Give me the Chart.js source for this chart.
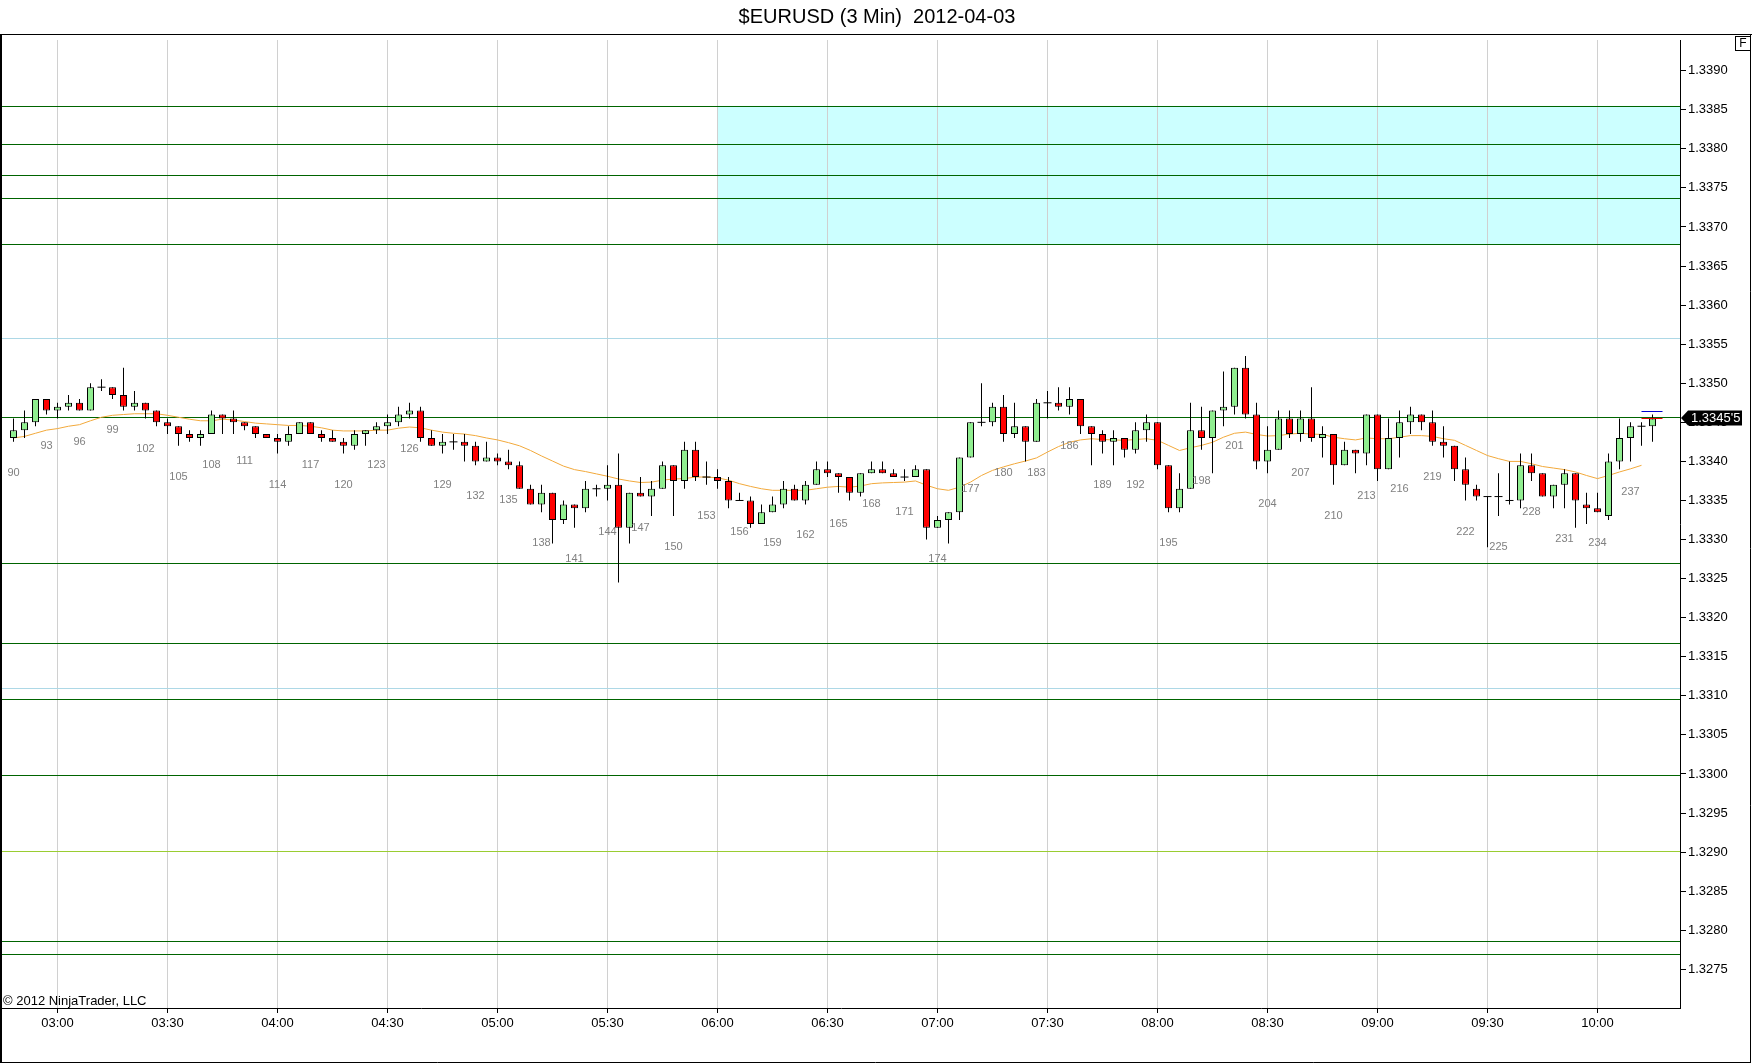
<!DOCTYPE html>
<html>
<head>
<meta charset="utf-8">
<title>$EURUSD (3 Min) 2012-04-03</title>
<script src="https://cdn.jsdelivr.net/npm/chart.js@4.4.1/dist/chart.umd.min.js"></script>
<style>
html,body{margin:0;padding:0;background:#ffffff;}
canvas{display:block;}
</style>
</head>
<body>
<canvas id="c" width="1752" height="1064"></canvas>
<script>
// ---------------- DATA ----------------
const titleText = '$EURUSD (3 Min)  2012-04-03';
const copyrightText = '\u00A9 2012 NinjaTrader, LLC';
const firstBar = 90;   // bar number of the first candle (bars 90 .. 239)

const openP = [
 1.33430,1.33440,1.33450,1.33480,1.33465,1.33470,1.33475,1.33465,1.33495,1.33495,
 1.33485,1.33470,1.33475,1.33465,1.33450,1.33445,1.33435,1.33430,1.33435,1.33460,
 1.33455,1.33450,1.33445,1.33435,1.33430,1.33425,1.33435,1.33450,1.33435,1.33430,
 1.33425,1.33420,1.33435,1.33440,1.33445,1.33450,1.33460,1.33465,1.33430,1.33420,
 1.33425,1.33425,1.33420,1.33400,1.33405,1.33400,1.33395,1.33365,1.33345,1.33360,
 1.33325,1.33345,1.33340,1.33365,1.33365,1.33370,1.33315,1.33360,1.33355,1.33365,
 1.33395,1.33375,1.33415,1.33380,1.33380,1.33375,1.33350,1.33350,1.33320,1.33335,
 1.33345,1.33365,1.33350,1.33370,1.33390,1.33385,1.33380,1.33360,1.33385,1.33390,
 1.33385,1.33380,1.33380,1.33390,1.33315,1.33325,1.33335,1.33405,1.33450,1.33450,
 1.33470,1.33435,1.33445,1.33425,1.33475,1.33475,1.33470,1.33480,1.33445,1.33435,
 1.33425,1.33430,1.33415,1.33440,1.33450,1.33395,1.33340,1.33365,1.33440,1.33430,
 1.33465,1.33470,1.33520,1.33460,1.33400,1.33415,1.33455,1.33435,1.33455,1.33430,
 1.33435,1.33395,1.33415,1.33410,1.33460,1.33390,1.33430,1.33450,1.33460,1.33450,
 1.33425,1.33420,1.33390,1.33365,1.33355,1.33355,1.33350,1.33350,1.33395,1.33385,
 1.33355,1.33370,1.33385,1.33345,1.33340,1.33330,1.33400,1.33430,1.33445,1.33445
];
const highP = [
 1.33455,1.33465,1.33480,1.33480,1.33475,1.33485,1.33480,1.33500,1.33505,1.33495,
 1.33520,1.33490,1.33475,1.33465,1.33455,1.33445,1.33440,1.33440,1.33465,1.33460,
 1.33465,1.33450,1.33445,1.33435,1.33435,1.33445,1.33450,1.33450,1.33440,1.33440,
 1.33430,1.33440,1.33440,1.33450,1.33460,1.33470,1.33475,1.33470,1.33440,1.33435,
 1.33435,1.33435,1.33425,1.33425,1.33410,1.33415,1.33400,1.33370,1.33370,1.33360,
 1.33350,1.33345,1.33375,1.33370,1.33395,1.33410,1.33360,1.33380,1.33375,1.33400,
 1.33395,1.33425,1.33425,1.33400,1.33390,1.33380,1.33360,1.33355,1.33345,1.33355,
 1.33375,1.33370,1.33375,1.33400,1.33400,1.33385,1.33380,1.33385,1.33400,1.33400,
 1.33390,1.33390,1.33395,1.33390,1.33330,1.33335,1.33405,1.33450,1.33500,1.33475,
 1.33485,1.33475,1.33445,1.33480,1.33490,1.33495,1.33495,1.33480,1.33445,1.33440,
 1.33440,1.33430,1.33450,1.33460,1.33450,1.33395,1.33385,1.33475,1.33470,1.33465,
 1.33515,1.33520,1.33535,1.33475,1.33445,1.33465,1.33465,1.33465,1.33495,1.33445,
 1.33435,1.33425,1.33415,1.33460,1.33460,1.33455,1.33465,1.33470,1.33460,1.33465,
 1.33445,1.33420,1.33405,1.33370,1.33355,1.33385,1.33400,1.33410,1.33410,1.33385,
 1.33370,1.33390,1.33385,1.33360,1.33360,1.33410,1.33455,1.33450,1.33450,1.33460
];
const lowP = [
 1.33425,1.33430,1.33445,1.33460,1.33455,1.33465,1.33465,1.33465,1.33490,1.33480,
 1.33465,1.33465,1.33455,1.33445,1.33435,1.33420,1.33425,1.33420,1.33435,1.33435,
 1.33435,1.33440,1.33430,1.33430,1.33410,1.33420,1.33435,1.33435,1.33425,1.33425,
 1.33410,1.33415,1.33420,1.33435,1.33435,1.33445,1.33455,1.33425,1.33420,1.33410,
 1.33415,1.33400,1.33395,1.33400,1.33395,1.33390,1.33365,1.33345,1.33335,1.33295,
 1.33320,1.33315,1.33335,1.33355,1.33350,1.33245,1.33295,1.33355,1.33330,1.33365,
 1.33330,1.33365,1.33375,1.33370,1.33365,1.33340,1.33350,1.33315,1.33320,1.33335,
 1.33340,1.33350,1.33345,1.33370,1.33380,1.33360,1.33350,1.33355,1.33385,1.33385,
 1.33380,1.33375,1.33380,1.33300,1.33315,1.33295,1.33325,1.33405,1.33445,1.33445,
 1.33425,1.33430,1.33400,1.33425,1.33455,1.33465,1.33460,1.33435,1.33395,1.33410,
 1.33395,1.33405,1.33410,1.33425,1.33390,1.33335,1.33335,1.33365,1.33415,1.33385,
 1.33445,1.33460,1.33455,1.33390,1.33385,1.33415,1.33430,1.33425,1.33425,1.33405,
 1.33370,1.33395,1.33385,1.33395,1.33375,1.33390,1.33405,1.33435,1.33440,1.33420,
 1.33405,1.33375,1.33350,1.33350,1.33290,1.33330,1.33345,1.33340,1.33375,1.33355,
 1.33340,1.33340,1.33315,1.33320,1.33335,1.33325,1.33390,1.33400,1.33420,1.33425
];
const closeP = [
 1.33440,1.33450,1.33480,1.33465,1.33470,1.33475,1.33465,1.33495,1.33495,1.33485,
 1.33470,1.33475,1.33465,1.33450,1.33445,1.33435,1.33430,1.33435,1.33460,1.33455,
 1.33450,1.33445,1.33435,1.33430,1.33425,1.33435,1.33450,1.33435,1.33430,1.33425,
 1.33420,1.33435,1.33440,1.33445,1.33450,1.33460,1.33465,1.33430,1.33420,1.33425,
 1.33425,1.33420,1.33400,1.33405,1.33400,1.33395,1.33365,1.33345,1.33360,1.33325,
 1.33345,1.33340,1.33365,1.33365,1.33370,1.33315,1.33360,1.33355,1.33365,1.33395,
 1.33375,1.33415,1.33380,1.33380,1.33375,1.33350,1.33350,1.33320,1.33335,1.33345,
 1.33365,1.33350,1.33370,1.33390,1.33385,1.33380,1.33360,1.33385,1.33390,1.33385,
 1.33380,1.33380,1.33390,1.33315,1.33325,1.33335,1.33405,1.33450,1.33450,1.33470,
 1.33435,1.33445,1.33425,1.33475,1.33475,1.33470,1.33480,1.33445,1.33435,1.33425,
 1.33430,1.33415,1.33440,1.33450,1.33395,1.33340,1.33365,1.33440,1.33430,1.33465,
 1.33470,1.33520,1.33460,1.33400,1.33415,1.33455,1.33435,1.33455,1.33430,1.33435,
 1.33395,1.33415,1.33410,1.33460,1.33390,1.33430,1.33450,1.33460,1.33450,1.33425,
 1.33420,1.33390,1.33370,1.33355,1.33355,1.33355,1.33350,1.33395,1.33385,1.33355,
 1.33370,1.33385,1.33350,1.33340,1.33335,1.33400,1.33430,1.33445,1.33445,1.33455
];
// moving average (orange line)
const maP = [
 1.33430,1.33432,1.33436,1.33440,1.33442,1.33445,1.33447,1.33452,1.334565,1.33459,
 1.33460,1.33461,1.33461,1.33461,1.33459,1.334565,1.33454,1.33452,1.33452,1.33454,
 1.33453,1.33451,1.33449,1.33448,1.33447,1.33446,1.33446,1.33445,1.33443,1.33440,
 1.33439,1.33439,1.33439,1.33440,1.33440,1.334425,1.33444,1.33443,1.33440,1.334375,
 1.33436,1.33435,1.33433,1.33430,1.334275,1.33424,1.33420,1.33414,1.33407,1.334005,
 1.33394,1.333895,1.33387,1.33384,1.33381,1.333775,1.33375,1.33373,1.333735,1.33376,
 1.333775,1.33378,1.33380,1.33380,1.33379,1.33376,1.333715,1.33368,1.33365,1.33363,
 1.33363,1.33363,1.33363,1.33365,1.33367,1.33368,1.33367,1.333685,1.333715,1.333725,
 1.33373,1.333735,1.33375,1.333695,1.33365,1.33363,1.33367,1.333735,1.33382,1.333885,
 1.33393,1.33397,1.334005,1.334045,1.33412,1.33419,1.334245,1.334275,1.33429,1.33428,
 1.334275,1.33427,1.33428,1.33429,1.33427,1.334205,1.33414,1.334175,1.334205,1.334245,
 1.33431,1.33436,1.334375,1.334345,1.334325,1.33433,1.33435,1.33436,1.33435,1.334345,
 1.33431,1.33429,1.334275,1.33430,1.33429,1.33429,1.33431,1.33433,1.33433,1.33432,
 1.33429,1.33427,1.334205,1.33414,1.334075,1.334035,1.33400,1.33400,1.33397,1.333935,
 1.333915,1.333895,1.333865,1.33382,1.33378,1.33382,1.333865,1.333905,1.33395,null
];

// horizontal price levels
const greenLevels = [1.33855, 1.33806, 1.33766, 1.33737, 1.33678, 1.33457,
                     1.33270, 1.33168, 1.33096, 1.32999, 1.32786, 1.32769];
const blueLevels = [1.33558, 1.33110];
const yellowLevels = [1.32901];
// shaded zone (from the 06:00 bar to the right edge)
const zoneStartBar = 154;
const zoneLow = 1.33678;
const zoneHigh = 1.33855;
// last ask / bid marks
const askPrice = 1.33465;
const bidPrice = 1.33455;

// axes
const xTickBars = [94,104,114,124,134,144,154,164,174,184,194,204,214,224,234];
const xTickLabels = ['03:00','03:30','04:00','04:30','05:00','05:30','06:00','06:30',
                     '07:00','07:30','08:00','08:30','09:00','09:30','10:00'];
const yTickValues = [1.3275,1.3280,1.3285,1.3290,1.3295,1.3300,1.3305,1.3310,1.3315,1.3320,
                     1.3325,1.3330,1.3335,1.3340,1.3345,1.3350,1.3355,1.3360,1.3365,1.3370,
                     1.3375,1.3380,1.3385,1.3390];
const xMin = 88.95455, xMax = 241.5;
const yMin = 1.327005, yMax = 1.339393;

// ---------------- BUILD ----------------
const UP = '#90ee90', DOWN = '#ff0000';
const bodies = [], dojis = [], wicks = [], maPts = [];
openP.forEach((o, i) => {
  const n = firstBar + i, c = closeP[i];
  wicks.push({x: n, y: [lowP[i], highP[i]]});
  if (o === c) dojis.push({x: n, y: o});
  else bodies.push({x: n, y: [o, c]});
  maPts.push({x: n, y: maP[i]});
});
const lastClose = closeP[closeP.length - 1];
const lastBar = firstBar + closeP.length - 1;

function fmtPrice(p) {
  const v = Math.round(p * 100000);
  return (Math.floor(v / 10) / 10000).toFixed(4) + "'" + (v % 10);
}

const decor = {
  id: 'decor',
  beforeDraw(chart) {
    const {ctx, chartArea: a, scales: {x, y}} = chart;
    ctx.save();
    ctx.fillStyle = '#ccffff';
    const x0 = Math.round(x.getPixelForValue(zoneStartBar));
    const y0 = y.getPixelForValue(zoneHigh), y1 = y.getPixelForValue(zoneLow);
    ctx.fillRect(x0, y0, a.right - x0, y1 - y0);
    ctx.restore();
  },
  beforeDatasetsDraw(chart) {
    const {ctx, chartArea: a, scales: {y}} = chart;
    ctx.save();
    ctx.lineWidth = 1;
    const draw = (arr, col) => {
      ctx.strokeStyle = col;
      arr.forEach(p => {
        const yy = Math.round(y.getPixelForValue(p)) + 0.5;
        ctx.beginPath(); ctx.moveTo(0, yy); ctx.lineTo(a.right, yy); ctx.stroke();
      });
    };
    draw(blueLevels, '#add8e6');
    draw(yellowLevels, '#9acd32');
    draw(greenLevels, '#006400');
    ctx.restore();
  },
  afterDatasetsDraw(chart) {
    const {ctx, scales: {x, y}} = chart;
    ctx.save();
    // bar numbers every third bar
    ctx.font = '11px "Liberation Sans", Arial, sans-serif';
    ctx.fillStyle = '#808080';
    ctx.textAlign = 'center';
    ctx.textBaseline = 'middle';
    lowP.forEach((l, i) => {
      const n = firstBar + i;
      if (n % 3 !== 0) return;
      ctx.fillText(String(n), x.getPixelForValue(n), y.getPixelForValue(l) + 31);
    });
    // ask / bid marks on the last bar
    const xc = x.getPixelForValue(lastBar);
    ctx.lineWidth = 1;
    ctx.strokeStyle = '#0000cc';
    let yy = Math.round(y.getPixelForValue(askPrice)) + 0.5;
    ctx.beginPath(); ctx.moveTo(xc - 11, yy); ctx.lineTo(xc + 10, yy); ctx.stroke();
    ctx.strokeStyle = '#ee0000';
    yy = Math.round(y.getPixelForValue(bidPrice)) + 0.5;
    ctx.beginPath(); ctx.moveTo(xc - 11, yy); ctx.lineTo(xc + 10, yy); ctx.stroke();
    ctx.restore();
  },
  afterDraw(chart) {
    const {ctx, chartArea: a, scales: {y}, width, height} = chart;
    ctx.save();
    // last price marker
    const yp = Math.round(y.getPixelForValue(lastClose));
    ctx.fillStyle = '#000';
    ctx.beginPath();
    ctx.moveTo(a.right + 1, yp);
    ctx.lineTo(a.right + 8, yp - 7.5);
    ctx.lineTo(a.right + 62, yp - 7.5);
    ctx.lineTo(a.right + 62, yp + 7.5);
    ctx.lineTo(a.right + 8, yp + 7.5);
    ctx.closePath();
    ctx.fill();
    ctx.fillStyle = '#fff';
    ctx.font = '13px "Liberation Sans", Arial, sans-serif';
    ctx.textAlign = 'left';
    ctx.textBaseline = 'middle';
    ctx.fillText(fmtPrice(lastClose), a.right + 11, yp + 0.5);
    // copyright
    ctx.fillStyle = '#000';
    ctx.textBaseline = 'alphabetic';
    ctx.fillText(copyrightText, 3, a.bottom - 3);
    // panel frame
    ctx.strokeStyle = '#000';
    ctx.lineWidth = 1;
    ctx.beginPath();
    ctx.moveTo(0, 34.5); ctx.lineTo(width, 34.5);
    ctx.moveTo(width - 1.5, 34); ctx.lineTo(width - 1.5, height - 1);
    ctx.moveTo(0, height - 1.5); ctx.lineTo(width - 1, height - 1.5);
    ctx.stroke();
    ctx.fillRect(0, 34, 2, height - 35);
    // "F" box
    ctx.strokeRect(width - 16.5, 36.5, 15, 14);
    ctx.font = '12px "Liberation Sans", Arial, sans-serif';
    ctx.textAlign = 'center';
    ctx.textBaseline = 'middle';
    ctx.fillText('F', width - 9, 44);
    ctx.restore();
  }
};

Chart.defaults.font.family = '"Liberation Sans", Arial, sans-serif';
Chart.defaults.font.size = 13;
Chart.defaults.color = '#000';

new Chart(document.getElementById('c'), {
  type: 'bar',
  data: {
    datasets: [
      {
        type: 'bar', label: 'body', data: bodies, order: 0, grouped: false,
        barThickness: 7, borderWidth: 1, borderColor: '#000', borderSkipped: false,
        inflateAmount: 0,
        backgroundColor: (c) => (c.raw && c.raw.y[1] > c.raw.y[0]) ? UP : DOWN
      },
      {
        type: 'line', label: 'doji', data: dojis, order: 0, showLine: false,
        pointStyle: 'line', pointRadius: 4, pointHoverRadius: 4,
        pointBorderColor: '#000', pointBorderWidth: 1, borderColor: '#000'
      },
      {
        type: 'bar', label: 'wick', data: wicks, order: 1, grouped: false,
        barThickness: 1, borderWidth: 0, inflateAmount: 0, backgroundColor: '#000'
      },
      {
        type: 'line', label: 'ma', data: maPts, order: 2,
        borderColor: '#f2a93b', borderWidth: 1, pointRadius: 0, tension: 0, spanGaps: false
      }
    ]
  },
  options: {
    responsive: false,
    animation: false,
    devicePixelRatio: 1,
    layout: {autoPadding: false, padding: {left: 2, right: 0, top: 0, bottom: 0}},
    plugins: {
      legend: {display: false},
      tooltip: {enabled: false},
      title: {
        display: true, text: titleText, color: '#000',
        font: {size: 20, weight: 'normal'},
        padding: {top: 5, bottom: 11}
      }
    },
    scales: {
      x: {
        type: 'linear', position: 'bottom', min: xMin, max: xMax, offset: false,
        grid: {offset: false, color: '#d0d0d0', tickColor: '#000', tickLength: 5, lineWidth: 1},
        border: {color: '#000', width: 1},
        ticks: {
          autoSkip: false, maxRotation: 0, minRotation: 0, color: '#000', padding: 3,
          font: {size: 13},
          callback: (v) => { const k = xTickBars.indexOf(v); return k >= 0 ? xTickLabels[k] : ''; }
        },
        afterBuildTicks: (s) => { s.ticks = xTickBars.map(v => ({value: v})); },
        afterFit: (s) => { s.height = 56; s.paddingLeft = 0; s.paddingRight = 0; }
      },
      y: {
        type: 'linear', position: 'right', min: yMin, max: yMax, beginAtZero: false,
        grid: {drawOnChartArea: false, tickColor: '#000', tickLength: 6},
        border: {color: '#000', width: 1},
        ticks: {color: '#000', padding: 2, font: {size: 13}, callback: (v) => Number(v).toFixed(4)},
        afterBuildTicks: (s) => { s.ticks = yTickValues.map(v => ({value: v})); },
        afterFit: (s) => { s.width = 72; s.paddingTop = 0; s.paddingBottom = 0; }
      }
    }
  },
  plugins: [decor]
});
</script>
</body>
</html>
